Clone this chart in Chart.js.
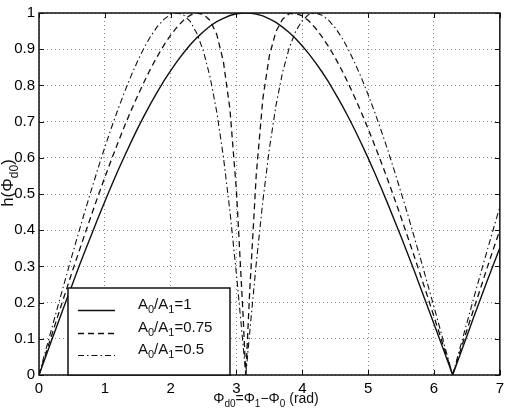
<!DOCTYPE html>
<html>
<head>
<meta charset="utf-8">
<script src="https://cdn.jsdelivr.net/npm/chart.js@4"></script>
<style>
  html, body { margin: 0; padding: 0; background: #fff; }
  #wrap { width: 509px; height: 408px; }
</style>
</head>
<body>
<div id="wrap"><canvas id="hChart" width="509" height="408"></canvas></div>
<script>
// phase difference Phi_d0 (rad)
const phi = [0, 0.1, 0.2, 0.3, 0.4, 0.5, 0.6, 0.7, 0.8, 0.9,
  1.0, 1.1, 1.2, 1.3, 1.4, 1.5, 1.6, 1.7, 1.8, 1.9,
  2.0, 2.1, 2.2, 2.3, 2.4, 2.5, 2.6, 2.7, 2.8, 2.9,
  3.0, 3.1, 3.1416, 3.2, 3.3, 3.4, 3.5, 3.6, 3.7, 3.8, 3.9,
  4.0, 4.1, 4.2, 4.3, 4.4, 4.5, 4.6, 4.7, 4.8, 4.9,
  5.0, 5.1, 5.2, 5.3, 5.4, 5.5, 5.6, 5.7, 5.8, 5.9,
  6.0, 6.1, 6.2, 6.2832, 6.3, 6.4, 6.5, 6.6, 6.7, 6.8, 6.9, 7.0];

// A0/A1 = 1 (solid)
const hRatio1 = [0, .050, .100, .149, .199, .247, .296, .343, .389, .435,
  .479, .523, .565, .605, .644, .682, .717, .751, .783, .813,
  .841, .867, .891, .913, .932, .949, .964, .976, .985, .993,
  .998, 1.0, 1.0, 1.0, .997, .992, .984, .974, .961, .946, .929,
  .909, .887, .863, .837, .809, .778, .746, .712, .676, .638,
  .599, .558, .516, .472, .427, .382, .335, .288, .239, .190,
  .141, .092, .042, 0, .008, .058, .108, .158, .207, .256, .304, .351];

// A0/A1 = 0.75 (dashed)
const hRatio075 = [0, .057, .114, .171, .227, .283, .337, .391, .444, .496,
  .546, .595, .642, .688, .731, .772, .811, .848, .881, .912,
  .939, .962, .981, .994, 1.0, .996, .979, .941, .867, .735,
  .507, .165, 0, .229, .553, .763, .883, .949, .983, .998, .999,
  .992, .978, .958, .934, .907, .876, .842, .805, .765, .724,
  .680, .634, .587, .538, .487, .435, .382, .328, .273, .218,
  .161, .105, .048, 0, .010, .067, .124, .180, .236, .292, .347, .400];

// A0/A1 = 0.5 (dash-dot)
const hRatio05 = [0, .067, .133, .199, .264, .329, .392, .454, .514, .573,
  .629, .683, .734, .782, .827, .868, .905, .937, .963, .983,
  .996, 1.0, .994, .976, .943, .893, .822, .727, .604, .453,
  .277, .083, 0, .116, .308, .480, .626, .745, .836, .903, .950,
  .980, .996, 1.0, .994, .980, .959, .932, .899, .861, .820,
  .774, .726, .674, .620, .563, .504, .444, .381, .318, .253,
  .188, .122, .055, 0, .011, .078, .144, .210, .275, .339, .402, .464];

const seriesLabels = ['A_0/A_1=1', 'A_0/A_1=0.75', 'A_0/A_1=0.5'];
const xTicks = [0, 1, 2, 3, 4, 5, 6, 7];
const yTicks = [0, 0.1, 0.2, 0.3, 0.4, 0.5, 0.6, 0.7, 0.8, 0.9, 1];
const xTitle = 'Φ_{d0}=Φ_1−Φ_0 (rad)';
const yTitle = 'h(Φ_{d0})';

const FONT = '"Liberation Sans", Arial, Helvetica, sans-serif';
const INK = '#111';

function pts(ys) {
    return phi.map((x, i) => ({ x: x, y: ys[i] }));
}

// split "A_0/A_1" style strings into normal / subscript pieces
function parseSub(str) {
    const parts = [];
    let buf = '';
    let i = 0;
    while (i < str.length) {
        if (str[i] === '_') {
            if (buf) { parts.push({ t: buf, sub: false }); buf = ''; }
            if (str[i + 1] === '{') {
                const j = str.indexOf('}', i);
                parts.push({ t: str.slice(i + 2, j), sub: true });
                i = j + 1;
            } else {
                parts.push({ t: str[i + 1], sub: true });
                i += 2;
            }
        } else {
            buf += str[i];
            i++;
        }
    }
    if (buf) parts.push({ t: buf, sub: false });
    return parts;
}

function drawRich(ctx, str, x, y, size, align) {
    const parts = parseSub(str);
    const big = size + 'px ' + FONT;
    const small = Math.round(size * 0.72) + 'px ' + FONT;
    let w = 0;
    parts.forEach(p => {
        ctx.font = p.sub ? small : big;
        p.w = ctx.measureText(p.t).width;
        w += p.w;
    });
    let cx = align === 'center' ? x - w / 2 : x;
    ctx.textAlign = 'left';
    ctx.textBaseline = 'alphabetic';
    ctx.fillStyle = INK;
    parts.forEach(p => {
        ctx.font = p.sub ? small : big;
        ctx.fillText(p.t, cx, p.sub ? y + size * 0.32 : y);
        cx += p.w;
    });
}

// box around the axes with inward ticks, like the original plot
const framePlugin = {
    id: 'frame',
    afterDatasetsDraw(chart) {
        const { ctx, chartArea: a, scales } = chart;
        ctx.save();
        ctx.strokeStyle = INK;
        ctx.lineWidth = 1;
        ctx.beginPath();
        xTicks.forEach(v => {
            const px = Math.round(scales.x.getPixelForValue(v)) + 0.5;
            ctx.moveTo(px, a.bottom); ctx.lineTo(px, a.bottom - 5);
            ctx.moveTo(px, a.top); ctx.lineTo(px, a.top + 5);
        });
        yTicks.forEach(v => {
            const py = Math.round(scales.y.getPixelForValue(v)) + 0.5;
            ctx.moveTo(a.left, py); ctx.lineTo(a.left + 5, py);
            ctx.moveTo(a.right, py); ctx.lineTo(a.right - 5, py);
        });
        ctx.stroke();
        ctx.lineWidth = 1.5;
        ctx.strokeRect(a.left, a.top, a.right - a.left, a.bottom - a.top);
        ctx.restore();
    }
};

// boxed legend in the lower left corner
const legendPlugin = {
    id: 'boxLegend',
    afterDatasetsDraw(chart) {
        const { ctx, chartArea: a } = chart;
        const box = { left: 68, top: 288, right: 230, bottom: a.bottom };
        ctx.save();
        ctx.fillStyle = '#fff';
        ctx.fillRect(box.left, box.top, box.right - box.left, box.bottom - box.top);
        ctx.strokeStyle = INK;
        ctx.lineWidth = 1.5;
        ctx.strokeRect(box.left, box.top, box.right - box.left, box.bottom - box.top);
        const rows = [310, 333, 355];
        chart.data.datasets.forEach((ds, i) => {
            ctx.strokeStyle = ds.borderColor;
            ctx.lineWidth = ds.borderWidth;
            ctx.setLineDash(ds.borderDash);
            ctx.beginPath();
            ctx.moveTo(78, rows[i] + 0.5);
            ctx.lineTo(115, rows[i] + 0.5);
            ctx.stroke();
            ctx.setLineDash([]);
            drawRich(ctx, seriesLabels[i], 138, rows[i] - 1.5, 15, 'left');
        });
        ctx.restore();
    }
};

// axis titles with subscripts
const titlePlugin = {
    id: 'axisTitles',
    afterDraw(chart) {
        const { ctx } = chart;
        ctx.save();
        drawRich(ctx, xTitle, 266, 403, 14, 'center');
        ctx.translate(13, 183);
        ctx.rotate(-Math.PI / 2);
        drawRich(ctx, yTitle, 0, 0, 17, 'center');
        ctx.restore();
    }
};

const tickFont = { family: FONT, size: 15 };

new Chart(document.getElementById('hChart').getContext('2d'), {
    type: 'line',
    data: {
        datasets: [
            { label: seriesLabels[0], data: pts(hRatio1), borderColor: INK, borderWidth: 1.4, borderDash: [], pointRadius: 0, tension: 0, fill: false },
            { label: seriesLabels[1], data: pts(hRatio075), borderColor: INK, borderWidth: 1.3, borderDash: [6, 4], pointRadius: 0, tension: 0, fill: false },
            { label: seriesLabels[2], data: pts(hRatio05), borderColor: INK, borderWidth: 1.1, borderDash: [6, 3, 1.5, 3], pointRadius: 0, tension: 0, fill: false }
        ]
    },
    options: {
        responsive: false,
        animation: false,
        layout: { padding: { top: 7, right: 9, left: 0, bottom: 0 } },
        plugins: {
            legend: { display: false },
            tooltip: { enabled: false }
        },
        scales: {
            x: {
                type: 'linear',
                min: 0,
                max: 7,
                afterBuildTicks: s => { s.ticks = xTicks.map(v => ({ value: v })); },
                afterFit: s => { s.height = 33; },
                grid: { color: '#8c8c8c', lineWidth: 1, drawTicks: false },
                border: { display: false, dash: [1, 3] },
                ticks: { padding: 5, font: tickFont, color: '#000', maxRotation: 0, autoSkip: false }
            },
            y: {
                min: 0,
                max: 1,
                afterBuildTicks: s => { s.ticks = yTicks.map(v => ({ value: v })); },
                afterFit: s => { s.width = 39; },
                grid: { color: '#8c8c8c', lineWidth: 1, drawTicks: false },
                border: { display: false, dash: [1, 3] },
                ticks: {
                    padding: 4, font: tickFont, color: '#000', autoSkip: false,
                    callback: v => String(Math.round(v * 10) / 10)
                }
            }
        }
    },
    plugins: [framePlugin, legendPlugin, titlePlugin]
});
</script>
</body>
</html>
